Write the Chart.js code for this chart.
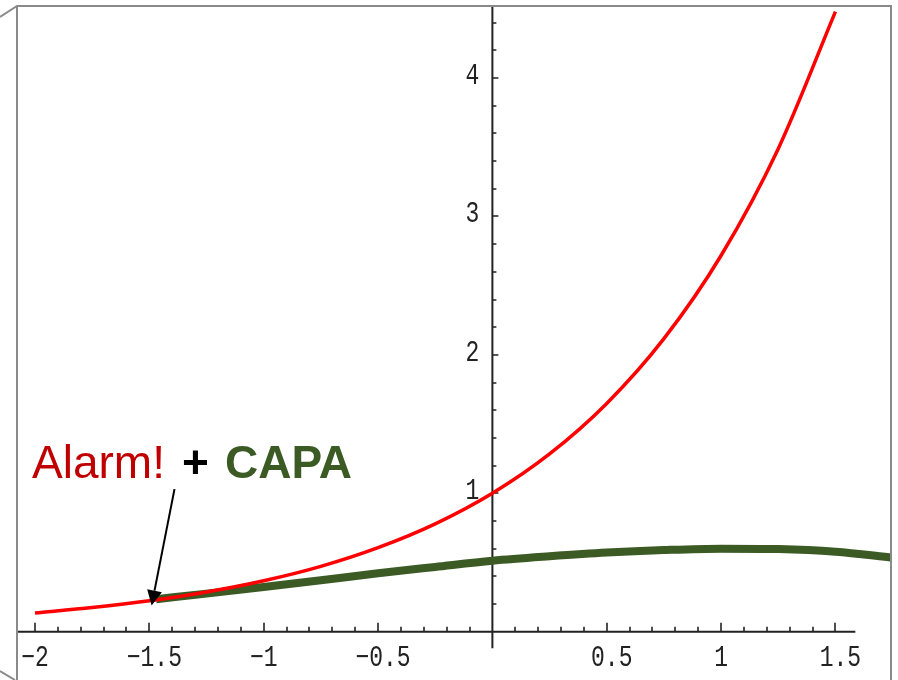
<!DOCTYPE html>
<html>
<head>
<meta charset="utf-8">
<title>Alarm! + CAPA</title>
<script src="https://cdn.jsdelivr.net/npm/chart.js@4.4.1/dist/chart.umd.min.js"></script>
<style>
    html, body { margin: 0; padding: 0; background: #fff; }
    #wrap { width: 898px; height: 680px; position: relative; }
</style>
</head>
<body>
<div id="wrap"><canvas id="chart"></canvas></div>
<script>
// Red curve (uncontrolled trend)
const redX = [-2, -1.75, -1.5, -1.25, -1, -0.75, -0.5, -0.25, 0, 0.25, 0.5, 0.75, 1, 1.25, 1.5];
const redY = [0.135, 0.174, 0.223, 0.287, 0.368, 0.472, 0.607, 0.779, 1.0, 1.284, 1.649, 2.117, 2.718, 3.49, 4.48];

// Green curve (after CAPA)
const greenX = [-1.47, -1.25, -1, -0.75, -0.5, -0.25, 0, 0.25, 0.5, 0.75, 1, 1.25, 1.5, 1.75];
const greenY = [0.235, 0.275, 0.323, 0.372, 0.422, 0.468, 0.513, 0.545, 0.572, 0.59, 0.6, 0.597, 0.578, 0.535];

// Axis labels
const xTickValues = [-2, -1.5, -1, -0.5, 0.5, 1, 1.5];
const xTickLabels = ['\u22122', '\u22121.5', '\u22121', '\u22120.5', '0.5', '1', '1.5'];
const yTickValues = [1, 2, 3, 4];
const yTickLabels = ['1', '2', '3', '4'];

const toPoints = (xs, ys) => xs.map((v, i) => ({ x: v, y: ys[i] }));

const crossAxes = {
    id: 'crossAxes',
    beforeDatasetsDraw(chart) {
        const { ctx, scales: { x, y } } = chart;
        const x0 = x.getPixelForValue(0);
        const y0 = y.getPixelForValue(0);
        ctx.save();
        ctx.strokeStyle = '#222';
        ctx.lineWidth = 2;
        ctx.beginPath();
        ctx.moveTo(x.getPixelForValue(-2.08), y0);
        ctx.lineTo(x.getPixelForValue(1.587), y0);
        ctx.moveTo(x0, y.getPixelForValue(4.52));
        ctx.lineTo(x0, y.getPixelForValue(-0.12));
        ctx.stroke();

        ctx.lineWidth = 1.6;
        ctx.beginPath();
        // x ticks every 0.1, longer at 0.5
        for (let k = -20; k <= 15; k++) {
            if (k === 0) continue;
            const px = Math.round(x.getPixelForValue(k / 10));
            const len = k % 5 === 0 ? 9 : 5;
            ctx.moveTo(px, y0);
            ctx.lineTo(px, y0 - len);
        }
        // y ticks every 0.2, longer at integers
        for (let k = 1; k <= 22; k++) {
            const py = Math.round(y.getPixelForValue(k * 0.2));
            const len = k % 5 === 0 ? 6 : 4;
            ctx.moveTo(x0, py);
            ctx.lineTo(x0 + len, py);
        }
        ctx.stroke();

        ctx.fillStyle = '#222';
        ctx.font = '23px "Liberation Mono", "DejaVu Sans Mono", monospace';
        ctx.textBaseline = 'middle';
        ctx.textAlign = 'center';
        xTickValues.forEach((v, i) => {
            const off = xTickLabels[i].includes('.') ? 5 : 0;
            ctx.save();
            ctx.translate(x.getPixelForValue(v) + off, y0 + 27);
            ctx.scale(1, 1.28);
            ctx.fillText(xTickLabels[i], 0, 0);
            ctx.restore();
        });
        ctx.textAlign = 'right';
        yTickValues.forEach((v, i) => {
            ctx.save();
            ctx.translate(x0 - 13, y.getPixelForValue(v) - 2);
            ctx.scale(1, 1.28);
            ctx.fillText(yTickLabels[i], 0, 0);
            ctx.restore();
        });
        ctx.restore();
    }
};

const annotation = {
    id: 'annotation',
    afterDatasetsDraw(chart) {
        const { ctx, scales: { x, y } } = chart;
        ctx.save();
        // label
        const tx = x.getPixelForValue(-2.013);
        const ty = y.getPixelForValue(1.11);
        ctx.textBaseline = 'alphabetic';
        ctx.textAlign = 'left';
        ctx.font = '46px "Liberation Sans", Arial, sans-serif';
        ctx.fillStyle = '#c00000';
        ctx.fillText('Alarm!', tx, ty);
        ctx.font = 'bold 46px "Liberation Sans", Arial, sans-serif';
        ctx.fillStyle = '#000';
        ctx.fillText('+', tx + 150, ty);
        ctx.fillStyle = '#3b5a24';
        ctx.fillText('CAPA', tx + 193, ty);

        // arrow to where CAPA starts
        const sx = x.getPixelForValue(-1.39), sy = y.getPixelForValue(1.03);
        const ex = x.getPixelForValue(-1.49), ey = y.getPixelForValue(0.19);
        const ang = Math.atan2(ey - sy, ex - sx);
        const headLen = 15, headW = 7.5;
        const bx = ex - headLen * Math.cos(ang), by = ey - headLen * Math.sin(ang);
        ctx.strokeStyle = '#000';
        ctx.lineWidth = 2;
        ctx.beginPath();
        ctx.moveTo(sx, sy);
        ctx.lineTo(bx, by);
        ctx.stroke();
        ctx.fillStyle = '#000';
        ctx.beginPath();
        ctx.moveTo(ex, ey);
        ctx.lineTo(bx + headW * Math.sin(ang), by - headW * Math.cos(ang));
        ctx.lineTo(bx - headW * Math.sin(ang), by + headW * Math.cos(ang));
        ctx.closePath();
        ctx.fill();
        ctx.restore();
    },
    afterDraw(chart) {
        // slide frame around the plot
        const ctx = chart.ctx;
        ctx.save();
        ctx.strokeStyle = '#8a8a8a';
        ctx.lineWidth = 2;
        ctx.beginPath();
        ctx.moveTo(0, 17);
        ctx.lineTo(17, 6);
        ctx.lineTo(891, 6);
        ctx.lineTo(891, 680);
        ctx.moveTo(17, 6);
        ctx.lineTo(17, 680);
        ctx.moveTo(0, 671);
        ctx.lineTo(15, 680);
        ctx.stroke();
        ctx.fillStyle = '#fff';
        ctx.fillRect(892, 0, 6, 680);
        ctx.restore();
    }
};

new Chart(document.getElementById('chart'), {
    type: 'scatter',
    data: {
        datasets: [
            {
                label: 'Trend',
                data: toPoints(redX, redY),
                showLine: true,
                borderColor: '#ff0000',
                borderWidth: 3.5,
                pointRadius: 0,
                cubicInterpolationMode: 'monotone'
            },
            {
                label: 'CAPA',
                data: toPoints(greenX, greenY),
                showLine: true,
                borderColor: '#3b5a24',
                borderWidth: 8,
                pointRadius: 0,
                cubicInterpolationMode: 'monotone'
            }
        ]
    },
    options: {
        responsive: true,
        maintainAspectRatio: false,
        animation: false,
        layout: { padding: 0 },
        plugins: { legend: { display: false }, tooltip: { enabled: false } },
        scales: {
            x: { type: 'linear', display: false, min: -2.153, max: 1.7735 },
            y: { type: 'linear', display: false, min: -0.349, max: 4.564 }
        }
    },
    plugins: [crossAxes, annotation]
});
</script>
</body>
</html>
